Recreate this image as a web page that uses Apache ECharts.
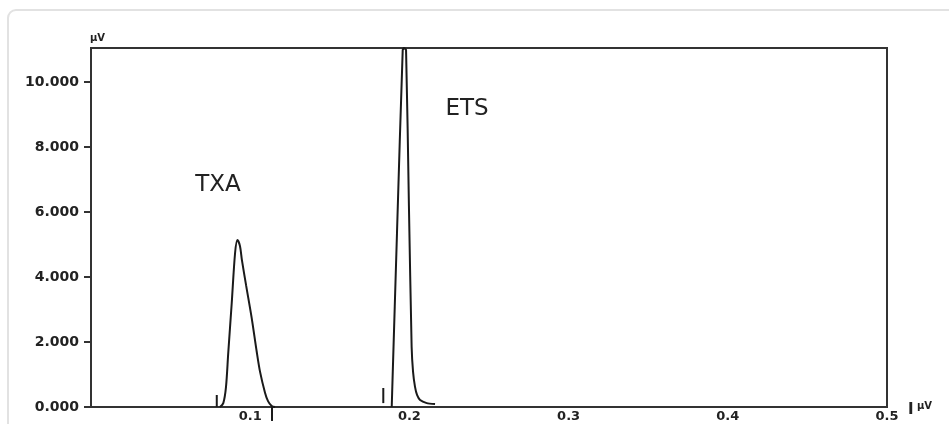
<!DOCTYPE html>
<html>
<head>
<meta charset="utf-8">
<title>Chromatogram TXA / ETS</title>
<script src="https://cdn.jsdelivr.net/npm/echarts@6/dist/echarts.min.js"></script>
<style>
  html, body { margin: 0; padding: 0; background: #ffffff; }
  #card {
    position: absolute; left: 7px; top: 9px; width: 1000px; height: 500px;
    border: 2px solid #e2e2e2; border-radius: 9px; box-sizing: border-box;
  }
  #chart { position: absolute; left: 0; top: 0; width: 949px; height: 424px; }
</style>
</head>
<body>
<div id="card"></div>
<div id="chart"></div>
<script>
// Retention axis (x) and detector response in µV (y)
const xTicks = [0.1, 0.2, 0.3, 0.4, 0.5];
const yTicks = [0, 2000, 4000, 6000, 8000, 10000];

// TXA peak: [time, µV]
const txaTime = [0.0810, 0.0831, 0.0848, 0.0862, 0.0884, 0.0905, 0.0920, 0.0936, 0.0948,
                 0.0974, 0.1009, 0.1041, 0.1062, 0.1093, 0.1112, 0.1135, 0.1156];
const txaSignal = [0, 120, 620, 1660, 3200, 4740, 5140, 4950, 4520,
                   3750, 2750, 1700, 1080, 440, 180, 30, 0];

// ETS peak: [time, µV]
const etsTime = [0.1889, 0.1894, 0.1922, 0.1958, 0.1966, 0.1979, 0.1997, 0.2014,
                 0.2023, 0.2035, 0.2048, 0.2067, 0.2109, 0.2161];
const etsSignal = [0, 830, 5350, 10985, 11050, 10985, 6185, 1855,
                   1080, 625, 370, 215, 120, 90];

// Integration start/end markers: time, low and high µV
const markerTime = [0.0790, 0.1137, 0.1836];
const markerLow  = [0, -430, 120];
const markerHigh = [370, 0, 585];

// Peak names and where they are written
const peakNames = ['TXA', 'ETS'];
const peakLabelTime = [0.0798, 0.2362];
const peakLabelSignal = [6830, 9170];

const INK = '#1a1a1a';
const tickFont = { fontFamily: 'DejaVu Sans', fontWeight: 'bold', fontSize: 14, color: '#222' };

function pairs(xs, ys) { return xs.map((x, i) => [x, ys[i]]); }

function peakLabel(i) {
  return {
    symbol: 'circle', symbolSize: 0,
    label: { show: true, position: 'inside', formatter: '{b}',
             fontFamily: 'DejaVu Sans', fontSize: 23, color: '#222' },
    data: [{ name: peakNames[i], coord: [peakLabelTime[i], peakLabelSignal[i]] }]
  };
}

const series = [
  {
    type: 'line', name: 'TXA', data: pairs(txaTime, txaSignal),
    showSymbol: false, smooth: 0.3, lineStyle: { color: INK, width: 2 },
    markPoint: peakLabel(0)
  },
  {
    type: 'line', name: 'ETS', data: pairs(etsTime, etsSignal),
    showSymbol: false, smooth: 0.2, lineStyle: { color: INK, width: 2 },
    markPoint: peakLabel(1)
  }
];

markerTime.forEach((t, i) => {
  series.push({
    type: 'line', data: [[t, markerLow[i]], [t, markerHigh[i]]],
    showSymbol: false, clip: false, silent: true,
    lineStyle: { color: INK, width: 2 }
  });
});

const chart = echarts.init(document.getElementById('chart'), null, { renderer: 'canvas' });
chart.setOption({
  animation: false,
  backgroundColor: 'transparent',
  grid: { left: 91, top: 48, right: 62, bottom: 17, show: true,
          borderColor: '#333', borderWidth: 2, backgroundColor: 'transparent' },
  xAxis: {
    type: 'value', min: 0, max: 0.5,
    name: '{bar|I} {unit|µV}',
    nameLocation: 'end', nameGap: 21,
    nameTextStyle: {
      rich: {
        bar: { fontFamily: 'DejaVu Sans', fontWeight: 'bold', fontSize: 15, color: '#222', padding: [6, 0, 0, 0] },
        unit: { fontFamily: 'DejaVu Sans', fontWeight: 'bold', fontSize: 10, color: '#222', padding: [0, 0, 2, 0] }
      }
    },
    axisLine: { show: true, onZero: false, lineStyle: { color: '#333', width: 2 } },
    axisTick: { show: false },
    splitLine: { show: false },
    axisLabel: Object.assign({ customValues: xTicks, margin: 3,
                               formatter: v => String(v) }, tickFont, { fontSize: 13 })
  },
  yAxis: {
    type: 'value', min: 0, max: 11050,
    name: 'µV', nameLocation: 'end', nameGap: 5,
    nameTextStyle: { fontFamily: 'DejaVu Sans', fontWeight: 'bold', fontSize: 10,
                     color: '#222', align: 'left', padding: [0, 0, 0, -1] },
    axisLine: { show: true, lineStyle: { color: '#333', width: 2 } },
    axisTick: { show: true, customValues: yTicks, length: 7, lineStyle: { color: '#333', width: 2 } },
    splitLine: { show: false },
    axisLabel: Object.assign({ customValues: yTicks, margin: 12,
                               formatter: v => (v / 1000).toFixed(3) }, tickFont)
  },
  series: series
});
</script>
</body>
</html>
